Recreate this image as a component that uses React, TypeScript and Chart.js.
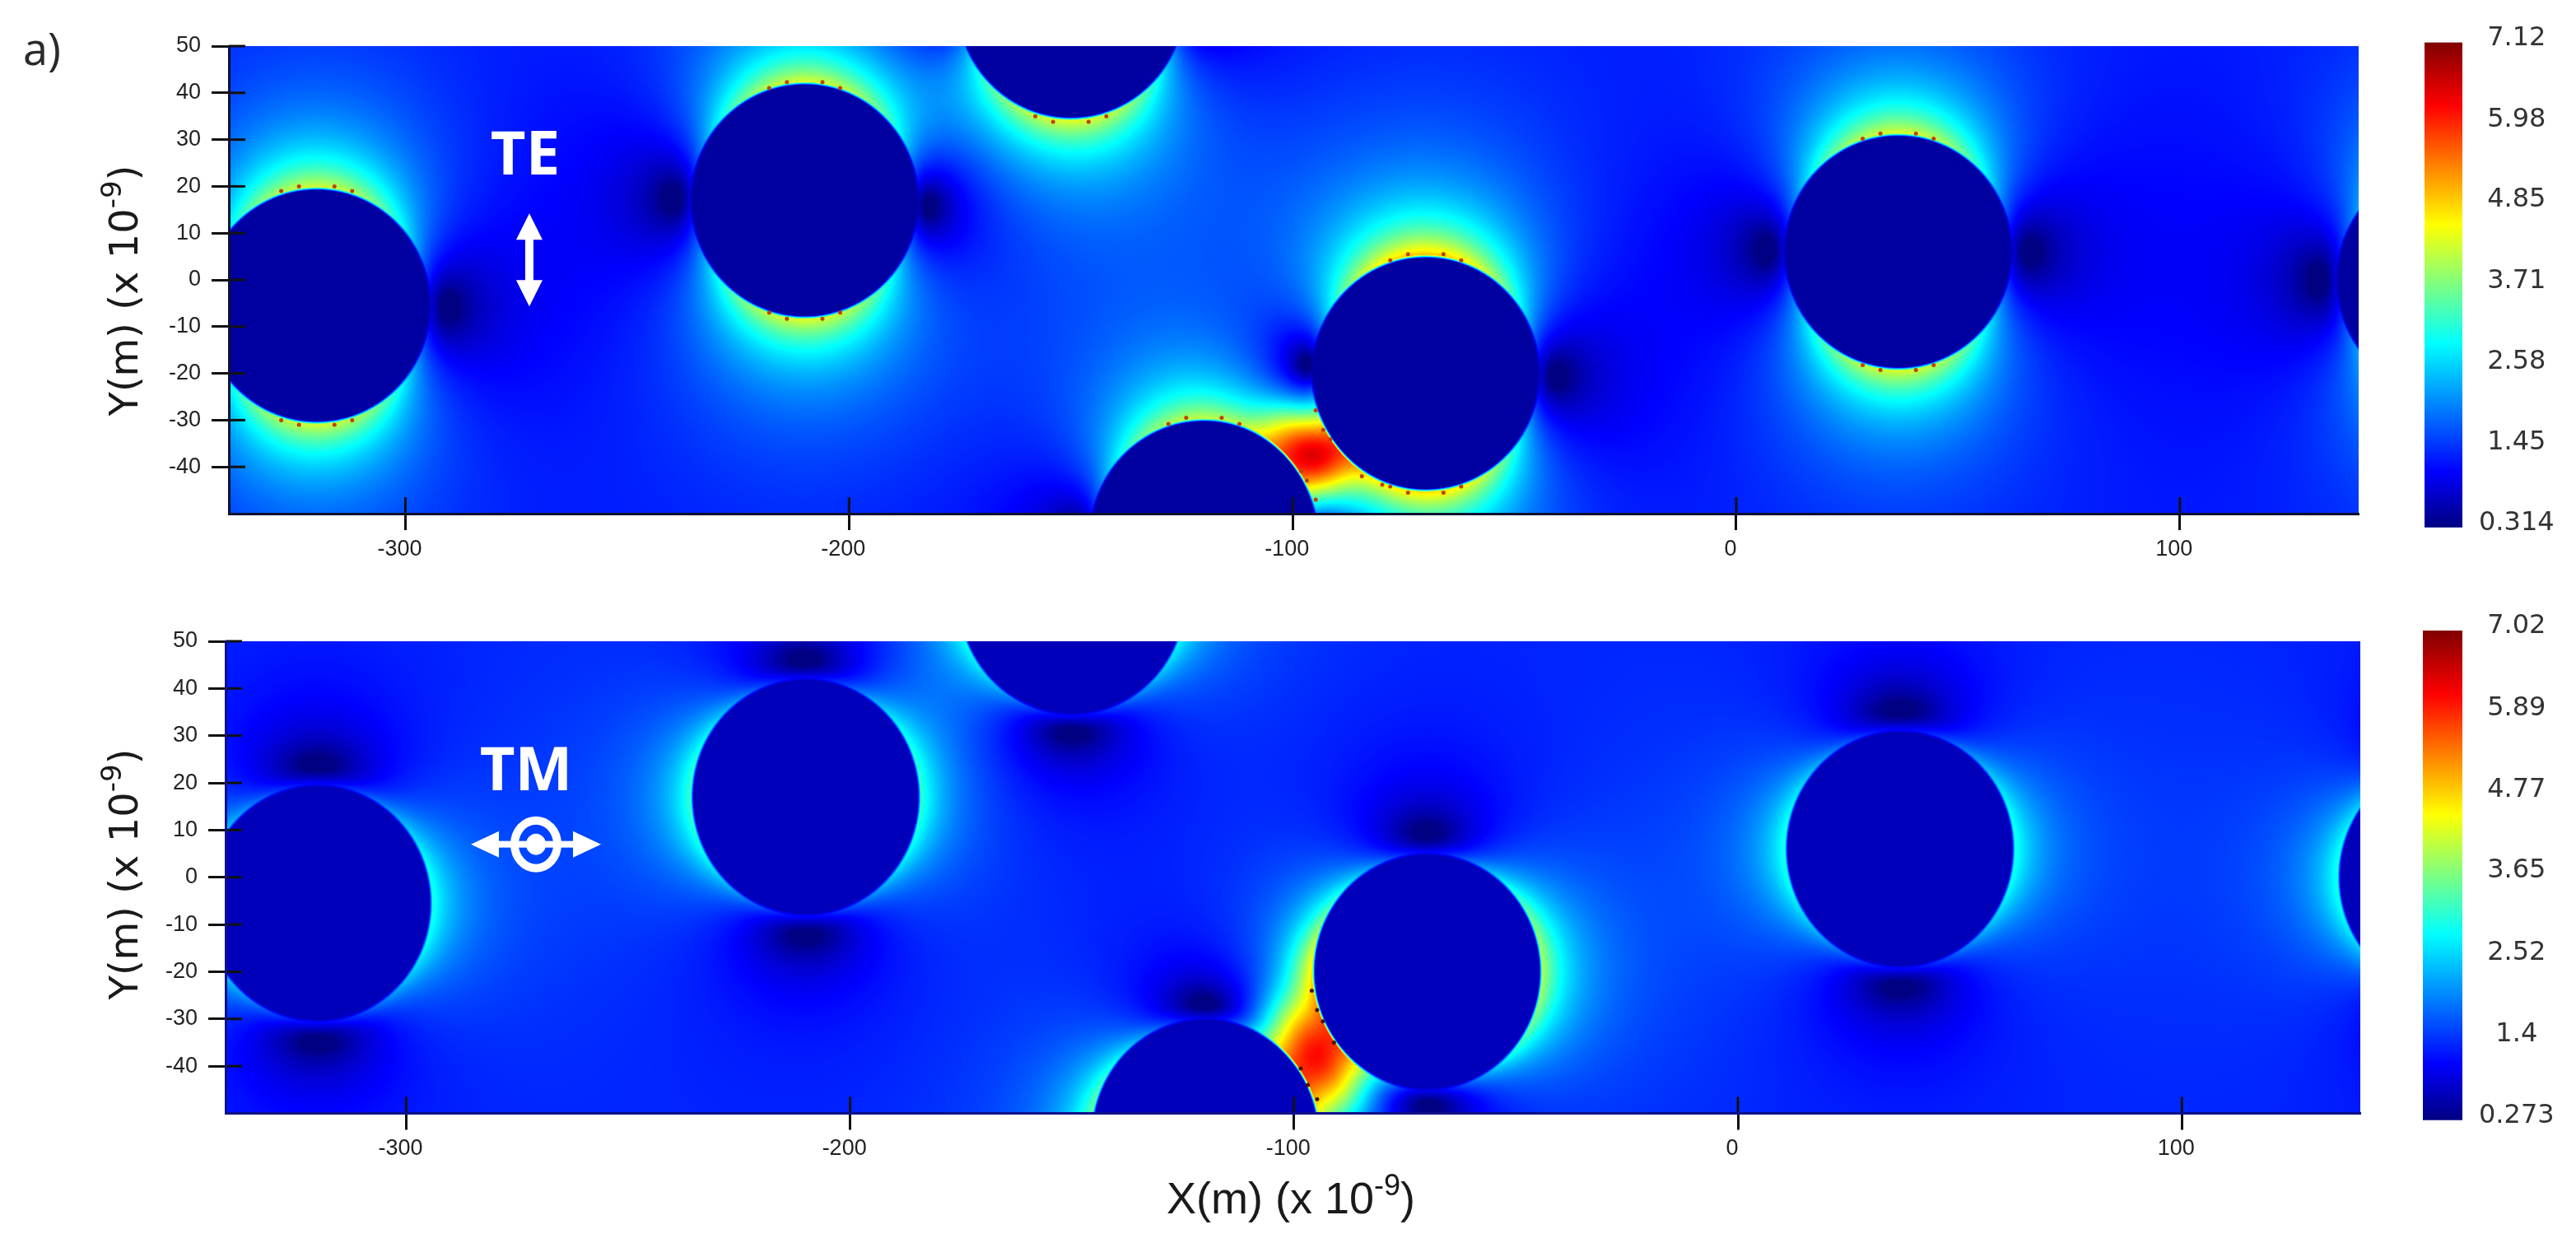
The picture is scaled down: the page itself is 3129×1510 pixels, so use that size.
import React, { useEffect, useRef } from "react";
import { Chart, registerables } from "chart.js";

Chart.register(...registerables);

// ---- data ----
const particleX = [-320, -210, -150, -70, -120, 36.5, 161];
const particleY = [-5.5, 17, 59.5, -20, -55, 6, 0];
const teRadial = [1.5, 1.52, 1.52, 1.68, 1.48, 1.52, 1.3];
const teEquator = [1.79, 1.79, 1.79, 1.79, 1.79, 1.79, 1.79];
const tmRadial = [1.1, 1.15, 1.1, 1.35, 1.25, 1.1, 1.1];
const tmEquator = [1.94, 1.94, 1.94, 1.94, 1.94, 1.94, 1.94];
const teHotX = [-95, -102, -88];
const teHotY = [-38, -32, -46];
const teHotAmp = [3.0, 0.9, 0.1];
const teHotSpread = [6, 5, 5];
const tmHotX = [-95, -101, -89, -93];
const tmHotY = [-38, -31, -45, -20];
const tmHotAmp = [2.3, 1.1, 1.1, 0.8];
const tmHotSpread = [6, 5.5, 5.5, 6];
const teBarTicks = [0.314, 1.45, 2.58, 3.71, 4.85, 5.98, 7.12];
const tmBarTicks = [0.273, 1.4, 2.52, 3.65, 4.77, 5.89, 7.02];
const yTicks = [-40, -30, -20, -10, 0, 10, 20, 30, 40, 50];
const xTicks = [-300, -200, -100, 0, 100];
const teDotsX = [-328, -324, -316, -312, -328, -324, -316, -312, -218, -214, -206, -202, -218, -214, -206, -202, -158, -154, -146, -142, -78, -74, -66, -62, -78, -74, -66, -62, -128, -124, -116, -112, 28.5, 32.5, 40.5, 44.5, 28.5, 32.5, 40.5, 44.5, -94.8, -93.1, -91.5, -84.4, -79.8, -98.1, -96.8, -94.8];
const teDotsY = [19, 20, 20, 19, -30, -31, -31, -30, 41, 42.3, 42.3, 41, -7, -8.3, -8.3, -7, 35, 33.8, 33.8, 35, 4.2, 5.5, 5.5, 4.2, -44.2, -45.5, -45.5, -44.2, -30.8, -29.5, -29.5, -30.8, 30.2, 31.3, 31.3, 30.2, -18.2, -19.3, -19.3, -18.2, -27.9, -32.1, -34.1, -42, -43.8, -40.9, -42.9, -47];
const tmDotsX = [-96, -94.8, -93.5, -91, -98.5, -96.9, -94.8];
const tmDotsY = [-24, -28.1, -30.5, -35, -40.5, -44, -47];

const RX = 25.6;
const RY = 25;
const jetStops: [number, number, number, number][] = [
  [0, 0, 0, 130],
  [0.115, 0, 0, 255],
  [0.38, 0, 255, 255],
  [0.625, 255, 255, 0],
  [0.87, 255, 0, 0],
  [1, 128, 0, 0],
];

function jet(t: number): [number, number, number] {
  const u = Math.min(1, Math.max(0, t));
  for (let i = 1; i < jetStops.length; i++) {
    const a = jetStops[i - 1];
    const b = jetStops[i];
    if (u <= b[0]) {
      const m = (u - a[0]) / (b[0] - a[0]);
      return [a[1] + (b[1] - a[1]) * m, a[2] + (b[2] - a[2]) * m, a[3] + (b[3] - a[3]) * m];
    }
  }
  return [128, 0, 0];
}
const css = (c: number[]) => `rgb(${Math.round(c[0])},${Math.round(c[1])},${Math.round(c[2])})`;

type Panel = {
  polar: "y" | "x";
  ticks: number[];
  radial: number[];
  equator: number[];
  radialPower: number;
  hotX: number[];
  hotY: number[];
  hotAmp: number[];
  hotSpread: number[];
  base: number;
  inside: number;
  dotsX: number[];
  dotsY: number[];
  dotColor: string;
  xMin: number;
  xMax: number;
  canvasTop: number;
  canvasH: number;
  areaLeft: number;
  areaTop: number;
  areaBottom: number;
  areaRight: number;
  edge: string;
  label: string;
  labelX: number;
  labelY: number;
  yTitleCenter: number;
  showXTitle: boolean;
};

const panels: Panel[] = [
  {
    polar: "y", ticks: teBarTicks, radial: teRadial, equator: teEquator, radialPower: 3.1,
    hotX: teHotX, hotY: teHotY, hotAmp: teHotAmp, hotSpread: teHotSpread,
    base: 1.18, inside: 0.5, dotsX: teDotsX, dotsY: teDotsY, dotColor: "#c04000",
    xMin: -339.8, xMax: 140.3, canvasTop: 0, canvasH: 690,
    areaLeft: 278, areaTop: 56, areaBottom: 624, areaRight: 2865, edge: "#101030",
    label: "TE", labelX: -273, labelY: 22.5, yTitleCenter: 353, showXTitle: false,
  },
  {
    polar: "x", ticks: tmBarTicks, radial: tmRadial, equator: tmEquator, radialPower: 3.8,
    hotX: tmHotX, hotY: tmHotY, hotAmp: tmHotAmp, hotSpread: tmHotSpread,
    base: 1.3, inside: 0.62, dotsX: tmDotsX, dotsY: tmDotsY, dotColor: "#501000",
    xMin: -340.7, xMax: 140.2, canvasTop: 700, canvasH: 810,
    areaLeft: 274, areaTop: 779, areaBottom: 1352.5, areaRight: 2867, edge: "#10108a",
    label: "TM", labelX: -273, labelY: 18.5, yTitleCenter: 1062, showXTitle: true,
  },
];

function fieldAt(p: Panel, x: number, y: number): number {
  const ex = p.polar === "x" ? 1 : 0;
  const ey = p.polar === "y" ? 1 : 0;
  let Ex = ex;
  let Ey = ey;
  let rim = Infinity;
  for (let i = 0; i < particleX.length; i++) {
    const nx = (x - particleX[i]) / RX;
    const ny = (y - particleY[i]) / RY;
    const r = Math.hypot(nx, ny) || 1e-6;
    if (r < rim) rim = r;
    const rr = Math.max(r, 1);
    const ka = p.radial[i] / Math.pow(rr, p.radialPower);
    const kb = p.equator[i] / (rr * rr * rr * rr);
    const ux = nx / r;
    const uy = ny / r;
    const d = ux * ex + uy * ey;
    Ex += 3 * ka * d * ux - kb * ex;
    Ey += 3 * ka * d * uy - kb * ey;
  }
  let v = p.base * Math.hypot(Ex, Ey);
  for (let i = 0; i < p.hotX.length; i++) {
    const dx = x - p.hotX[i];
    const dy = y - p.hotY[i];
    v += p.hotAmp[i] * Math.exp(-(dx * dx + dy * dy) / (2 * p.hotSpread[i] * p.hotSpread[i]));
  }
  const dist = (rim - 1) * 140;
  const w = 2;
  if (dist <= -w) return p.inside;
  if (dist >= w) return v;
  const t = (dist + w) / (2 * w);
  return p.inside + (v - p.inside) * t;
}

function titleWithExponent(
  ctx: any,
  cx: number,
  cy: number,
  rotate: boolean,
  family: string,
  size: number,
  supSize: number,
  lead: string,
) {
  ctx.save();
  ctx.translate(cx, cy);
  if (rotate) ctx.rotate(-Math.PI / 2);
  ctx.fillStyle = "#1a1a1a";
  ctx.textAlign = "left";
  ctx.textBaseline = "alphabetic";
  ctx.font = `${size}px ${family}`;
  const w1 = ctx.measureText(lead).width;
  const w3 = ctx.measureText(")").width;
  ctx.font = `${supSize}px ${family}`;
  const w2 = ctx.measureText("-9").width;
  let x = -(w1 + w2 + w3) / 2;
  const base = size * 0.36;
  ctx.font = `${size}px ${family}`;
  ctx.fillText(lead, x, base);
  x += w1;
  ctx.font = `${supSize}px ${family}`;
  ctx.fillText("-9", x, base - size * 0.42);
  x += w2;
  ctx.font = `${size}px ${family}`;
  ctx.fillText(")", x, base);
  ctx.restore();
}

const heatPlugin = (p: Panel) => ({
  id: "heat",
  beforeDatasetsDraw(chart: any) {
    const { ctx, chartArea: a, scales } = chart;
    const L = Math.round(a.left);
    const T = Math.round(a.top);
    const W = Math.round(a.right) - L;
    const H = Math.round(a.bottom) - T;
    const img = ctx.createImageData(W, H);
    const lo = p.ticks[0];
    const hi = p.ticks[p.ticks.length - 1];
    const lut: [number, number, number][] = [];
    for (let i = 0; i <= 1023; i++) lut.push(jet(i / 1023));
    const xs = new Float64Array(W);
    for (let i = 0; i < W; i++) xs[i] = scales.x.getValueForPixel(L + i + 0.5);
    let o = 0;
    for (let j = 0; j < H; j++) {
      const y = scales.y.getValueForPixel(T + j + 0.5);
      for (let i = 0; i < W; i++) {
        const v = fieldAt(p, xs[i], y);
        const t = Math.max(0, Math.min(1023, Math.round(((v - lo) / (hi - lo)) * 1023)));
        const c = lut[t];
        img.data[o++] = c[0];
        img.data[o++] = c[1];
        img.data[o++] = c[2];
        img.data[o++] = 255;
      }
    }
    ctx.putImageData(img, L, T);
  },
  afterDatasetsDraw(chart: any) {
    const { ctx, chartArea: a, scales } = chart;
    ctx.save();
    ctx.strokeStyle = "#111";
    ctx.lineWidth = 3;
    for (const v of yTicks) {
      const py = scales.y.getPixelForValue(v);
      ctx.beginPath();
      ctx.moveTo(a.left, py);
      ctx.lineTo(a.left + 20, py);
      ctx.stroke();
    }
    for (const v of xTicks) {
      const px = scales.x.getPixelForValue(v);
      ctx.beginPath();
      ctx.moveTo(px, a.bottom);
      ctx.lineTo(px, a.bottom - 20);
      ctx.stroke();
    }
    const cx = scales.x.getPixelForValue(p.labelX);
    const by = scales.y.getPixelForValue(p.labelY);
    ctx.fillStyle = "#fff";
    ctx.strokeStyle = "#fff";
    ctx.font = 'bold 74px "Open Sans"';
    ctx.textAlign = "center";
    ctx.textBaseline = "alphabetic";
    ctx.fillText(p.label, cx, by);
    if (p.polar === "y") {
      const ax = cx + 5;
      const t = by + 47;
      const b = by + 160;
      ctx.fillRect(ax - 5, t + 20, 10, b - t - 40);
      ctx.beginPath();
      ctx.moveTo(ax, t);
      ctx.lineTo(ax + 16, t + 32);
      ctx.lineTo(ax - 16, t + 32);
      ctx.closePath();
      ctx.moveTo(ax, b);
      ctx.lineTo(ax + 16, b - 32);
      ctx.lineTo(ax - 16, b - 32);
      ctx.closePath();
      ctx.fill();
    } else {
      const ay = by + 66;
      const l = cx - 67;
      const r = cx + 91;
      const mid = cx + 12;
      ctx.fillRect(l + 20, ay - 4, r - l - 40, 8);
      ctx.beginPath();
      ctx.moveTo(l, ay);
      ctx.lineTo(l + 34, ay - 16);
      ctx.lineTo(l + 34, ay + 16);
      ctx.closePath();
      ctx.moveTo(r, ay);
      ctx.lineTo(r - 34, ay - 16);
      ctx.lineTo(r - 34, ay + 16);
      ctx.closePath();
      ctx.fill();
      ctx.lineWidth = 10;
      ctx.beginPath();
      ctx.ellipse(mid, ay, 26, 29, 0, 0, Math.PI * 2);
      ctx.stroke();
      ctx.beginPath();
      ctx.ellipse(mid, ay, 12, 13, 0, 0, Math.PI * 2);
      ctx.fill();
    }
    ctx.restore();
  },
  afterDraw(chart: any) {
    const { ctx } = chart;
    titleWithExponent(ctx, 150, p.yTitleCenter - p.canvasTop, true, '"DejaVu Sans"', 48, 34, "Y(m) (x 10");
    if (p.showXTitle) {
      titleWithExponent(ctx, 1568, 1455 - p.canvasTop, false, '"Liberation Sans"', 54, 36, "X(m) (x 10");
    }
  },
});

const insetLetter = {
  id: "panelLetter",
  afterDraw(chart: any) {
    const { ctx } = chart;
    ctx.save();
    ctx.fillStyle = "#2a2a2a";
    ctx.font = '54px "Open Sans"';
    ctx.textAlign = "left";
    ctx.textBaseline = "alphabetic";
    ctx.fillText("a)", 28, 79);
    ctx.restore();
  },
};

function PanelChart({ p }: { p: Panel }) {
  const ref = useRef<HTMLCanvasElement>(null);
  useEffect(() => {
    const W = 2895;
    const interior = css(jet((p.inside - p.ticks[0]) / (p.ticks[p.ticks.length - 1] - p.ticks[0])));
    const chart = new Chart(ref.current as HTMLCanvasElement, {
      type: "bubble",
      data: {
        datasets: [
          {
            type: "bubble",
            label: "particles",
            data: particleX.map((x, i) => ({ x, y: particleY[i] })),
            backgroundColor: interior,
            borderWidth: 0,
            radius: (c: any) => {
              const s = c.chart.scales.x;
              return Math.abs(s.getPixelForValue(RX) - s.getPixelForValue(0)) - 4;
            },
          } as any,
          {
            type: "scatter",
            label: "rim points",
            data: p.dotsX.map((x, i) => ({ x, y: p.dotsY[i] })),
            backgroundColor: p.dotColor,
            borderWidth: 0,
            pointRadius: 2.5,
          } as any,
        ],
      },
      options: {
        animation: false,
        responsive: false,
        layout: {
          padding: { left: 0, right: W - p.areaRight, top: p.areaTop - p.canvasTop, bottom: 0 },
        },
        plugins: { legend: { display: false }, tooltip: { enabled: false } },
        scales: {
          x: {
            type: "linear",
            min: p.xMin,
            max: p.xMax,
            afterFit: (s: any) => {
              s.height = p.canvasTop + p.canvasH - p.areaBottom;
            },
            afterBuildTicks: (s: any) => {
              s.ticks = xTicks.map((value) => ({ value }));
            },
            grid: { drawOnChartArea: false, tickLength: 20, tickColor: "#111", tickWidth: 3, z: 1 },
            border: { color: p.edge, width: 3, z: 1 },
            ticks: {
              font: { family: '"Liberation Sans"', size: 27 },
              color: "#222",
              padding: 7,
              labelOffset: -7,
              maxRotation: 0,
              callback: (v: any) => String(v),
            },
          },
          y: {
            type: "linear",
            min: -50,
            max: 50,
            afterFit: (s: any) => {
              s.width = p.areaLeft;
            },
            afterBuildTicks: (s: any) => {
              s.ticks = yTicks.map((value) => ({ value }));
            },
            grid: { drawOnChartArea: false, tickLength: 21, tickColor: "#111", tickWidth: 3, z: 1 },
            border: { color: p.edge, width: 3, z: 1 },
            ticks: {
              font: { family: '"Liberation Sans"', size: 27 },
              color: "#222",
              padding: 13,
              callback: (v: any) => String(v),
            },
          },
        },
      } as any,
      plugins: p.polar === "y" ? [heatPlugin(p), insetLetter] : [heatPlugin(p)],
    } as any);
    return () => chart.destroy();
  }, [p]);
  return (
    <canvas
      ref={ref}
      width={2895}
      height={p.canvasH}
      style={{ position: "absolute", left: 0, top: p.canvasTop, display: "block" }}
    />
  );
}

type Bar = { ticks: number[]; top: number; bottom: number; left: number; right: number; canvasTop: number; canvasH: number };
const bars: Bar[] = [
  { ticks: teBarTicks, top: 51.6, bottom: 640.8, left: 2945, right: 2991, canvasTop: 0, canvasH: 700 },
  { ticks: tmBarTicks, top: 766, bottom: 1377, left: 2943, right: 2991, canvasTop: 700, canvasH: 700 },
];

function ColorBar({ b }: { b: Bar }) {
  const ref = useRef<HTMLCanvasElement>(null);
  useEffect(() => {
    const originX = 2920;
    const lo = b.ticks[0];
    const hi = b.ticks[b.ticks.length - 1];
    const chart = new Chart(ref.current as HTMLCanvasElement, {
      type: "bar",
      data: {
        labels: ["field"],
        datasets: [
          {
            data: [[lo, hi]],
            barPercentage: 1,
            categoryPercentage: 1,
            borderWidth: 0,
            backgroundColor: (c: any) => {
              const { ctx, chartArea } = c.chart;
              if (!chartArea) return "#00f";
              const g = ctx.createLinearGradient(0, chartArea.bottom, 0, chartArea.top);
              for (const s of jetStops) g.addColorStop(s[0], css([s[1], s[2], s[3]]));
              return g;
            },
          },
        ],
      },
      options: {
        animation: false,
        responsive: false,
        layout: {
          padding: { left: b.left - originX, right: 0, top: b.top - b.canvasTop, bottom: b.canvasTop + b.canvasH - b.bottom },
        },
        plugins: { legend: { display: false }, tooltip: { enabled: false } },
        scales: {
          x: { display: false },
          y: {
            position: "right",
            min: lo,
            max: hi,
            afterFit: (s: any) => {
              s.width = 3129 - b.right;
            },
            afterBuildTicks: (s: any) => {
              s.ticks = b.ticks.map((value) => ({ value }));
            },
            grid: { display: false, drawTicks: false },
            border: { display: false },
            ticks: {
              font: { family: '"DejaVu Sans"', size: 32 },
              color: "#333",
              padding: 20,
              crossAlign: "center",
              labelOffset: -5,
              callback: (v: any) => String(v),
            },
          },
        },
      } as any,
    } as any);
    return () => chart.destroy();
  }, [b]);
  return (
    <canvas
      ref={ref}
      width={3129 - 2920}
      height={b.canvasH}
      style={{ position: "absolute", left: 2920, top: b.canvasTop, display: "block" }}
    />
  );
}

export default function App() {
  return (
    <div style={{ position: "absolute", left: 0, top: 0, width: 3129, height: 1510, background: "#fff", overflow: "hidden" }}>
      {panels.map((p) => (
        <PanelChart key={p.label} p={p} />
      ))}
      {bars.map((b) => (
        <ColorBar key={b.top} b={b} />
      ))}
    </div>
  );
}
